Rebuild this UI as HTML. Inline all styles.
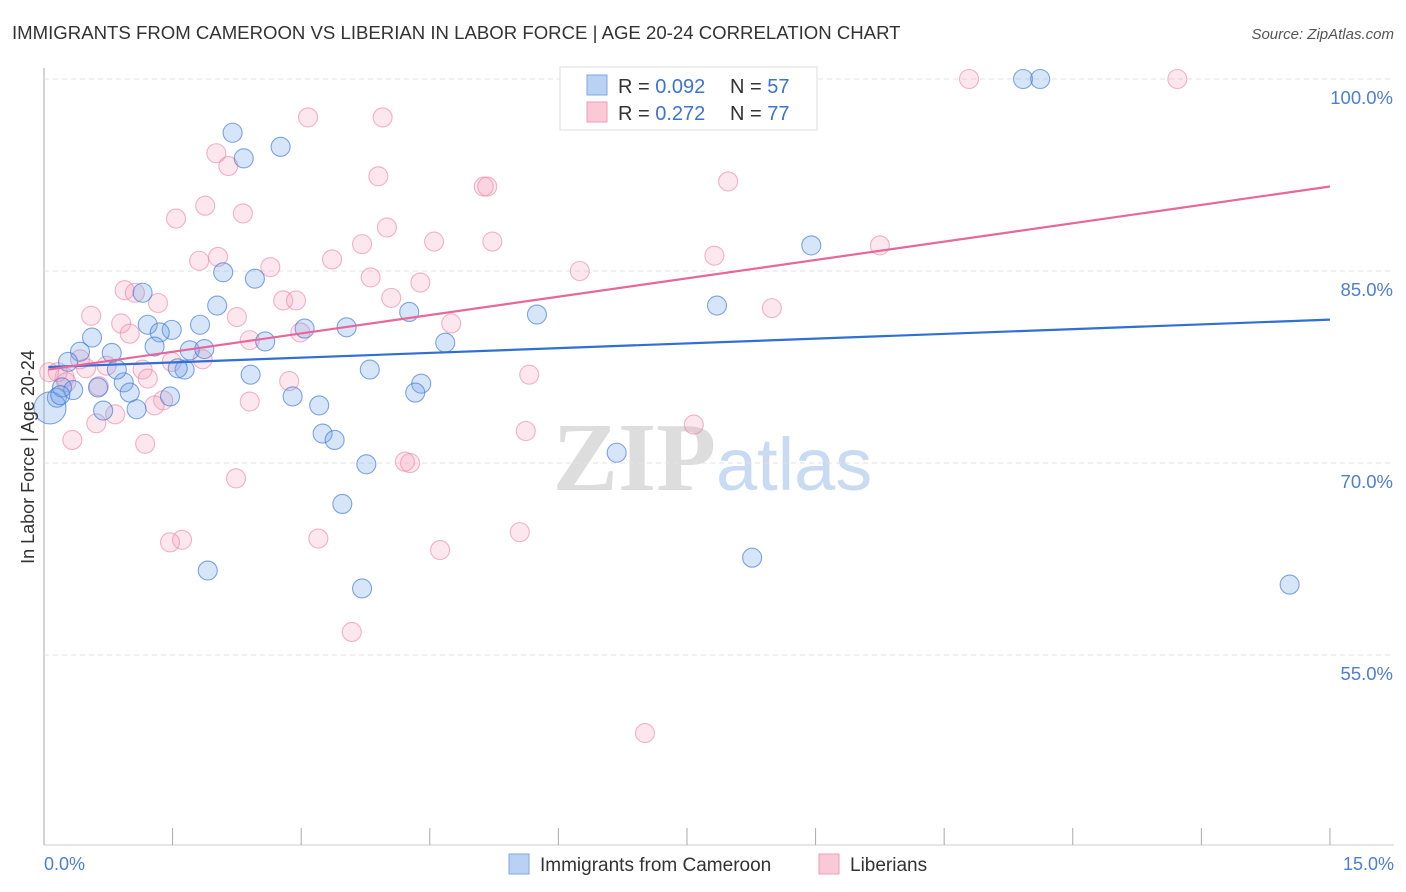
<!DOCTYPE html>
<html><head><meta charset="utf-8">
<style>
body{margin:0;background:#fff;font-family:"Liberation Sans",sans-serif;}
#wrap{position:relative;width:1406px;height:892px;overflow:hidden;}
</style></head>
<body>
<div id="wrap">
<svg id="svg" width="1406" height="892" xmlns="http://www.w3.org/2000/svg">
<text x="12" y="39" font-size="18.6" fill="#333">IMMIGRANTS FROM CAMEROON VS LIBERIAN IN LABOR FORCE | AGE 20-24 CORRELATION CHART</text>
<text x="1394" y="39" font-size="15" fill="#555" font-style="italic" text-anchor="end">Source: ZipAtlas.com</text>
<text x="716" y="490" font-size="98" fill="#ddd" text-anchor="end" font-family="Liberation Serif,serif" font-weight="bold">ZIP</text>
<text x="716" y="490" font-size="74" fill="#c9dbf2">atlas</text>
<g id="grid"></g>
<g id="pts"></g>
<g id="lines"></g>
<text transform="translate(34,457) rotate(-90)" font-size="18" fill="#333" text-anchor="middle">In Labor Force | Age 20-24</text>
<text x="44" y="870" font-size="18" fill="#4a7fd4">0.0%</text>
<text x="1394" y="870" font-size="18" fill="#4a7fd4" text-anchor="end">15.0%</text>
<g>
<rect x="560" y="67" width="257" height="63" fill="#fff" stroke="#ddd"/>
<rect x="587" y="75" width="20" height="20" fill="#b9d1f3" stroke="#7ea6e3"/>
<rect x="587" y="102" width="20" height="20" fill="#f9c9d6" stroke="#ee9db5"/>
<text x="618" y="93" font-size="20" fill="#333">R = <tspan fill="#3d73d0">0.092</tspan></text>
<text x="730" y="93" font-size="20" fill="#333">N = <tspan fill="#3d73d0">57</tspan></text>
<text x="618" y="120" font-size="20" fill="#333">R = <tspan fill="#3d73d0"> 0.272</tspan></text>
<text x="730" y="120" font-size="20" fill="#333">N = <tspan fill="#3d73d0">77</tspan></text>
</g>
<g>
<rect x="509" y="854" width="20" height="20" fill="#b9d1f3" stroke="#7ea6e3"/>
<text x="540" y="871" font-size="19" fill="#333">Immigrants from Cameroon</text>
<rect x="819" y="854" width="20" height="20" fill="#f9c9d6" stroke="#ee9db5"/>
<text x="850" y="871" font-size="19" fill="#333">Liberians</text>
</g>
</svg>
</div>
<script>
const blueX=[2.20,2.33,2.76,2.09,2.46,2.02,1.15,1.21,1.49,1.35,1.82,1.29,1.70,1.87,1.64,1.56,0.56,0.42,0.79,0.28,0.93,0.85,1.00,0.63,1.08,0.69,1.47,0.34,0.15,0.21,2.58,2.41,3.04,3.53,2.90,3.21,3.25,3.39,3.80,3.76,3.48,3.71,4.26,4.68,4.40,4.33,5.75,6.68,7.85,8.95,8.26,1.91,11.42,11.62,14.53,0.07,0.19];
const blueY=[95.8,93.8,94.7,84.9,84.4,82.3,83.3,80.8,80.4,80.2,80.8,79.1,78.8,78.9,77.3,77.4,79.8,78.7,78.6,77.9,76.3,77.3,75.5,75.9,74.2,74.1,75.2,75.7,75.1,75.9,79.5,76.9,80.5,80.6,75.2,74.5,72.3,71.8,77.3,69.9,66.8,60.2,81.8,79.4,76.2,75.5,81.6,70.8,82.3,87.0,62.6,61.6,100,100,60.5,74.3,75.3];
const pinkX=[3.08,3.95,2.01,2.15,2.32,1.88,1.54,3.90,5.13,5.17,7.98,10.79,13.22,4.00,3.71,4.55,5.23,3.36,2.03,1.81,2.64,3.81,4.39,6.25,7.82,9.75,0.94,1.06,1.33,0.55,2.79,2.94,4.05,2.25,0.90,1.00,2.99,4.75,8.49,2.40,1.85,1.49,0.73,1.15,0.49,0.24,0.06,0.16,0.42,1.21,0.64,2.86,5.66,2.40,1.39,1.29,0.83,0.61,0.33,1.18,5.62,7.58,4.21,4.27,2.24,5.55,4.62,3.20,1.61,1.47,3.59,7.01,0.26];
const pinkY=[97.0,97.0,94.2,93.2,89.5,90.1,89.1,92.4,91.6,91.6,92.0,100,100,88.4,87.1,87.3,87.3,85.9,86.1,85.8,85.3,84.5,84.1,85.0,86.2,87.0,83.5,83.3,82.5,81.5,82.7,82.7,82.9,81.4,80.9,80.1,80.2,80.9,82.1,79.6,78.1,77.9,77.6,77.3,77.4,76.7,77.1,77.1,78.1,76.6,76.0,76.4,76.9,74.8,74.9,74.5,73.8,73.1,71.8,71.5,72.5,73.0,70.1,70.0,68.8,64.6,63.2,64.1,64.0,63.8,56.8,48.9,76.3];
const yTicks=[100,85,70,55];
const yTickLabels=["100.0%","85.0%","70.0%","55.0%"];
const xTicks=[0,1.5,3,4.5,6,7.5,9,10.5,12,13.5,15];
const blueTrend=[77.5,81.2];
const pinkTrend=[77.3,91.6];
const NS="http://www.w3.org/2000/svg";
const sx=v=>44+v*85.73;
const sy=v=>79+(100-v)*12.8;
function mk(tag,attrs,parent){const e=document.createElementNS(NS,tag);for(const k in attrs)e.setAttribute(k,attrs[k]);parent.appendChild(e);return e;}
const grid=document.getElementById('grid');
let a=mk('line',{x1:44,y1:68,x2:44,y2:845,stroke:'#aaa'},grid);


let b=mk('line',{x1:44,y1:845,x2:1394,y2:845,stroke:'#ccc'},grid);


yTicks.forEach((t,i)=>{
  const l=mk('line',{x1:44,x2:1394,y1:sy(t),y2:sy(t),stroke:'#e2e2e2','stroke-dasharray':'5,4'},grid);
  
  
  const tx=mk('text',{x:1393,y:sy(t)+25,'font-size':18.5,fill:'#4a7fd4','text-anchor':'end'},grid);
  tx.textContent=yTickLabels[i];
  
  
});
xTicks.forEach(t=>{
  const l=mk('line',{x1:sx(t),x2:sx(t),y1:828,y2:845,stroke:'#aaa'},grid);
  
  
});
const pts=document.getElementById('pts');
function drawPts(X,Y,fill,stroke,name){
  X.forEach((x,i)=>{
    const big=(x<0.1&&name==='point-cameroon')?16:9.5;
    const c=mk('circle',{cx:sx(x),cy:sy(Y[i]),r:big,fill:fill,stroke:stroke,'stroke-width':1.1},pts);
    
    
  });
}
drawPts(pinkX,pinkY,'rgba(244,160,188,0.25)','rgba(236,130,162,0.6)','point-liberian');
drawPts(blueX,blueY,'rgba(110,160,232,0.28)','rgba(60,120,215,0.65)','point-cameroon');
const lines=document.getElementById('lines');
let lb=mk('line',{x1:sx(0.05),y1:sy(blueTrend[0]),x2:sx(15),y2:sy(blueTrend[1]),stroke:'#2f6fd6','stroke-width':2.2},lines);


let lp=mk('line',{x1:sx(0.05),y1:sy(pinkTrend[0]),x2:sx(15),y2:sy(pinkTrend[1]),stroke:'#e8679a','stroke-width':2.2},lines);


</script>
</body></html>
